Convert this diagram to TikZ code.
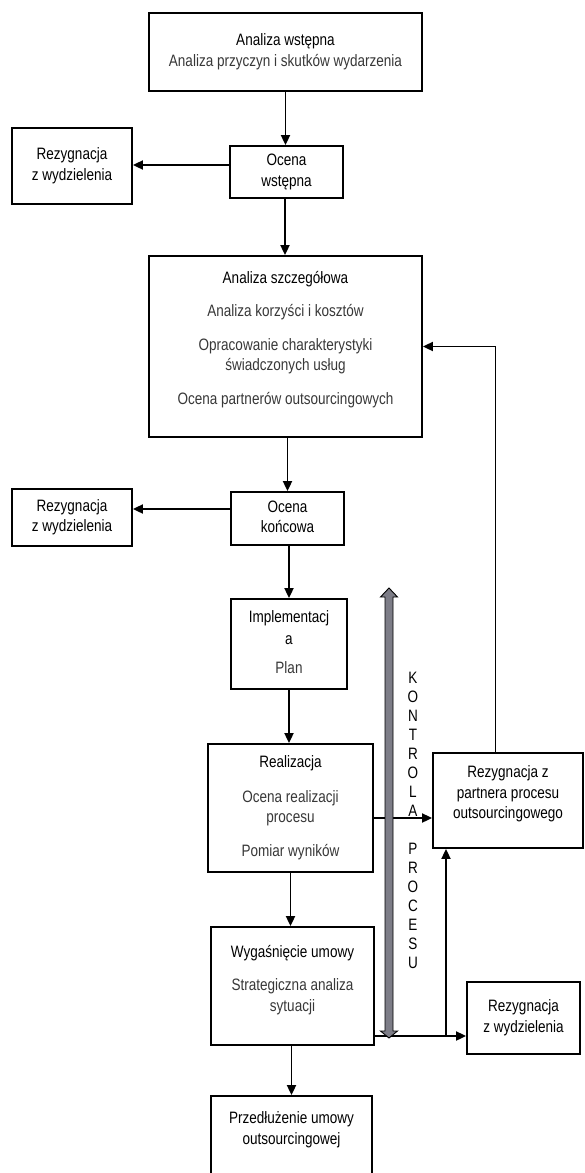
\documentclass[tikz,border=0pt]{standalone}
\usepackage{fontspec}
\setmainfont{Liberation Sans}[FakeStretch=0.82]
\usetikzlibrary{arrows.meta,calc}
\definecolor{subgray}{gray}{0.22}
\definecolor{bargray}{RGB}{125,125,135}
\newcommand{\tb}[1]{\begin{tabular}{@{}c@{}}#1\end{tabular}}
\newcommand{\sbt}[1]{\textcolor{subgray}{#1}}
\begin{document}
\begin{tikzpicture}[x=1pt,y=-1pt,
  box/.style={draw, line width=1.8pt, inner sep=0pt, fill=white,
    font=\fontsize{16.5}{20.5}\selectfont},
  arr/.style={line width=1.8pt, -{Triangle[length=10pt,width=9pt]}},
  ctrlbar/.style={draw=black, line width=0.9pt, fill=bargray, line join=miter},
  vlabel/.style={inner sep=0pt, font=\fontsize{16.5}{19}\selectfont}]
\useasboundingbox (0,0) rectangle (584,1173);
\fill[white] (0,0) rectangle (584,1173);

% boxes
\node[box, minimum width=273pt, minimum height=78pt] (a1) at (285.5,52)
  {\tb{Analiza wstępna\\ \sbt{Analiza przyczyn i skutków wydarzenia}}};
\node[box, minimum width=113pt, minimum height=52pt] (ow) at (286.5,172)
  {\tb{Ocena\\wstępna}};
\node[box, minimum width=120pt, minimum height=76pt] (r1) at (72,166)
  {\tb{Rezygnacja\\z wydzielenia}};
\node[box, minimum width=273pt, minimum height=181pt] (sz) at (285.5,346.5)
  {\tb{Analiza szczegółowa\\[13pt]
       \sbt{Analiza korzyści i kosztów}\\[13pt]
       \sbt{Opracowanie charakterystyki}\\
       \sbt{świadczonych usług}\\[13pt]
       \sbt{Ocena partnerów outsourcingowych}\\[14pt]}};
\node[box, minimum width=113pt, minimum height=53pt] (ok) at (287.5,518.5)
  {\tb{Ocena\\końcowa}};
\node[box, minimum width=120pt, minimum height=57pt] (r2) at (72,517.5)
  {\tb{Rezygnacja\\z wydzielenia}};
\node[box, minimum width=116pt, minimum height=90pt] (im) at (289,644)
  {\tb{Implementacj\\[1.5pt]a\\[8.5pt]\sbt{Plan}}};
\node[box, minimum width=165pt, minimum height=128pt] (re) at (290.5,808)
  {\tb{Realizacja\\[14pt]
       \sbt{Ocena realizacji}\\
       \sbt{procesu}\\[13pt]
       \sbt{Pomiar wyników}}};
\node[box, minimum width=150pt, minimum height=95pt] (pa) at (508,800.5)
  {\tb{Rezygnacja z\\partnera procesu\\outsourcingowego\\[13pt]}};
\node[box, minimum width=163pt, minimum height=118pt] (wy) at (292.5,986)
  {\tb{Wygaśnięcie umowy\\[13pt]
       \sbt{Strategiczna analiza}\\
       \sbt{sytuacji}\\[12pt]}};
\node[box, minimum width=113pt, minimum height=72pt] (r3) at (523.5,1018)
  {\tb{Rezygnacja\\z wydzielenia}};
\node[box, minimum width=161pt, minimum height=100pt] (pr) at (291.5,1146)
  {\tb{Przedłużenie umowy\\outsourcingowej\\[32pt]}};

% connectors
\draw[arr] (a1.south) -- (a1.south |- ow.north);
\draw[arr] ([yshift=7pt]ow.west) -- ([yshift=7pt]ow.west -| r1.east);
\draw[arr] ([xshift=-1.5pt]ow.south) -- ([xshift=-1.5pt]ow.south |- sz.north);
\draw[arr] (sz.south -| ok.north) -- (ok.north);
\draw[arr] ([yshift=9.5pt]ok.west) -- ([yshift=9.5pt]ok.west -| r2.east);
\draw[arr] (ok.south -| im.north) -- (im.north);
\draw[arr] (im.south) -- (im.south |- re.north);
\draw[arr] (re.south) -- (re.south |- wy.north);
\draw[arr] (wy.south -| pr.north) -- (pr.north);
\draw[arr] ([yshift=-10pt]re.east) -- ([yshift=-10pt]re.east -| pa.west);
\draw[arr] ([xshift=-12.5pt]pa.north) |- (sz.east);
\coordinate (wyout) at ([yshift=-50pt]wy.east);
\draw[arr] (wyout) -- (wyout -| r3.west);
\coordinate (junc) at (446,1036);
\draw[arr] (junc) -- (junc |- pa.south);

% process control bar
\path[ctrlbar] (389,588) -- (397.5,597) -- (393,597) -- (393,1031) -- (397.5,1031)
  -- (389,1038) -- (380.5,1031) -- (385,1031) -- (385,597) -- (380.5,597) -- cycle;
\node[vlabel] (kp) at (413,821.7)
  {\tb{K\\O\\N\\T\\R\\O\\L\\A\\[19pt]P\\R\\O\\C\\E\\S\\U}};
\end{tikzpicture}
\end{document}
